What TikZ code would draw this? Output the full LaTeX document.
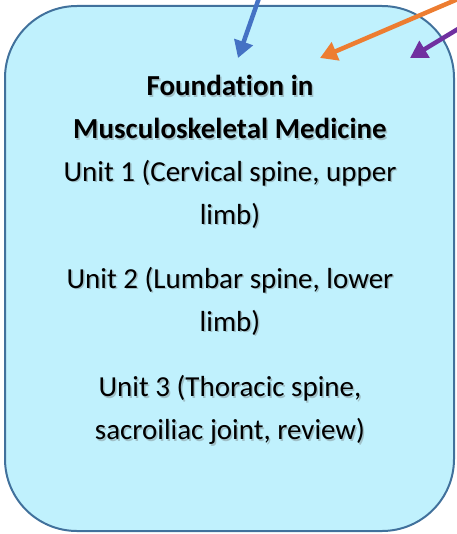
\documentclass[tikz,border=0pt]{standalone}
\usepackage{fontspec}
\setmainfont[Ligatures=NoCommon]{Carlito}
\usetikzlibrary{arrows.meta}
\definecolor{boxfill}{HTML}{C0F1FD}
\definecolor{boxline}{HTML}{41719C}
\definecolor{ablue}{HTML}{4472C4}
\definecolor{aorange}{HTML}{ED7D31}
\definecolor{apurple}{HTML}{7030A0}
\tikzset{
  txt/.style={align=center, font=\fontsize{29}{43}\selectfont, text=black, inner sep=0pt},
  shd/.style={txt, text=black!60, opacity=0.35},
  feed/.style={line width=4.5pt, -{Triangle[length=17pt,width=19pt]}},
}
\begin{document}
\begin{tikzpicture}[x=1pt,y=-1pt]
\useasboundingbox (0,0) rectangle (456,534);
\node[draw=boxline, line width=2pt, fill=boxfill, rounded corners=72pt,
  minimum width=449pt, minimum height=525pt, inner sep=0pt] (box) at (229.5,268.5) {};
% shadows
\node[shd, font=\fontsize{29}{43}\selectfont\bfseries] (title-s) at (231.5,108.5) {Foundation in\\Musculoskeletal Medicine};
\node[shd] (u1-s) at (231.5,195.5) {Unit 1 (Cervical spine, upper\\limb)};
\node[shd] (u2-s) at (231.5,302.5) {Unit 2 (Lumbar spine, lower\\limb)};
\node[shd] (u3-s) at (231.5,411.5) {Unit 3 (Thoracic spine,\\sacroiliac joint, review)};
% text
\node[txt, font=\fontsize{29}{43}\selectfont\bfseries] (title) at (230,107) {Foundation in\\Musculoskeletal Medicine};
\node[txt] (u1) at (230,194) {Unit 1 (Cervical spine, upper\\limb)};
\node[txt] (u2) at (230,301) {Unit 2 (Lumbar spine, lower\\limb)};
\node[txt] (u3) at (230,410) {Unit 3 (Thoracic spine,\\sacroiliac joint, review)};
% arrows
\coordinate (bs) at (259,-2);
\coordinate (bt) at (238,58);
\coordinate (os) at (458,-1);
\coordinate (ot) at (320,58);
\coordinate (ps) at (458,29);
\coordinate (pt) at (410,58);
\draw[feed, ablue] (bs) -- (bt);
\draw[feed, aorange] (os) -- (ot);
\draw[feed, apurple] (ps) -- (pt);
\end{tikzpicture}
\end{document}
